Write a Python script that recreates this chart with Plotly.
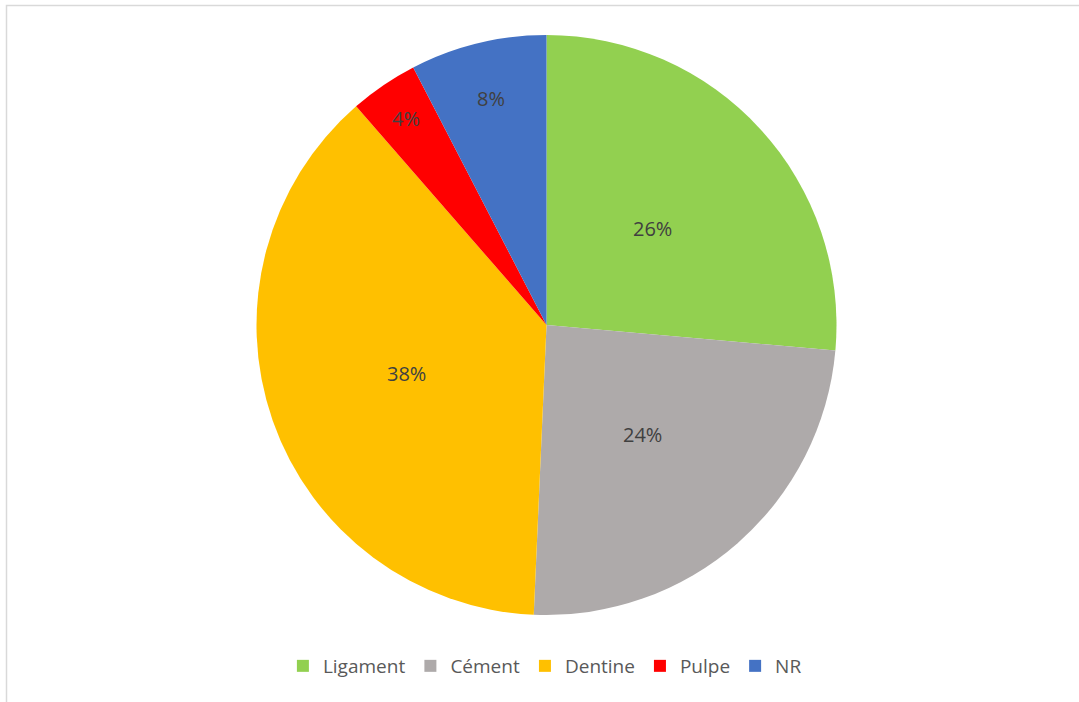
import math
import plotly.graph_objects as go

labels = ["Ligament", "Cément", "Dentine", "Pulpe", "NR"]
values = [26.4, 24.3, 37.9, 3.8, 7.6]
colors = ["#92D050", "#AEAAAA", "#FFC000", "#FF0000", "#4472C4"]
label_radius = [0.495, 0.50, 0.51, 0.86, 0.805]  # fraction of pie radius for data labels

W, H = 1079, 702
cx, cy, r = 546.5, 325, 290
FONT = "Open Sans, Lato, sans-serif"

fig = go.Figure(go.Pie(
    labels=labels, values=values, sort=False, direction="clockwise", rotation=0,
    marker=dict(colors=colors, line=dict(width=0)),
    textinfo="none",
    domain=dict(x=[(cx - r) / W, (cx + r) / W], y=[1 - (cy + r) / H, 1 - (cy - r) / H]),
    hoverinfo="label+percent",
))

# data labels placed along each slice's mid-angle
total = sum(values)
cum = 0.0
annotations = []
for v, f in zip(values, label_radius):
    mid = (cum + v / 2) / total * 2 * math.pi
    cum += v
    px = cx + f * r * math.sin(mid)
    py = cy - f * r * math.cos(mid)
    annotations.append(dict(
        x=px / W, y=1 - py / H, xref="paper", yref="paper",
        text=f"{round(v / total * 100)}%", showarrow=False,
        xanchor="center", yanchor="middle",
        font=dict(family=FONT, size=20, color="#404040"),
    ))

fig.update_layout(
    width=W, height=H,
    margin=dict(l=0, r=0, t=0, b=0),
    paper_bgcolor="white", plot_bgcolor="white",
    showlegend=True,
    annotations=annotations,
    legend=dict(orientation="h", x=0.505, xanchor="center", y=(H - 666) / H, yanchor="middle",
                font=dict(family=FONT, size=19, color="#595959"),
                itemwidth=30, tracegroupgap=0),
    shapes=[dict(type="rect", xref="paper", yref="paper",
                 x0=6.5 / W, x1=1.02, y0=-0.02, y1=1 - 5.5 / H,
                 line=dict(color="#D9D9D9", width=1.5), fillcolor="rgba(0,0,0,0)", layer="below")],
)

fig.write_html("out.html")
